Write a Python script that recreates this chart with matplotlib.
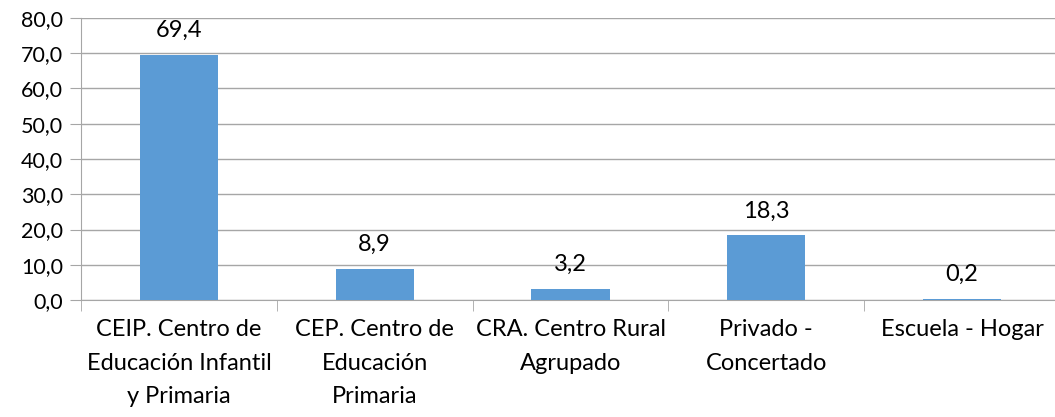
import matplotlib
matplotlib.use('Agg')
import matplotlib.pyplot as plt
import numpy as np

categories = ['CEIP. Centro de\nEducación Infantil\ny Primaria',
              'CEP. Centro de\nEducación\nPrimaria',
              'CRA. Centro Rural\nAgrupado',
              'Privado -\nConcertado',
              'Escuela - Hogar']
values = [69.4, 8.9, 3.2, 18.3, 0.2]
yticks = [0, 10, 20, 30, 40, 50, 60, 70, 80]

plt.rcParams['font.family'] = ['Lato', 'DejaVu Sans']

fig = plt.figure(figsize=(10.55, 4.17), dpi=100)
ax = fig.add_axes([81/1055, 1-300/417, (1060-81)/1055, (300-18)/417])

x = np.arange(len(values))
ax.bar(x, values, width=0.4, color='#5B9BD5', zorder=3)
for xi, v in zip(x, values):
    ax.text(xi, v + 4.0, f'{v:.1f}'.replace('.', ','), ha='center', va='bottom', fontsize=17, color='#000000')

ax.set_xlim(-0.5, len(values) - 0.5)
ax.set_ylim(0, 80)
ax.set_yticks(yticks)
ax.set_yticklabels([f'{t:.1f}'.replace('.', ',') for t in yticks], fontsize=15.5)
ax.yaxis.grid(True, color='#A6A6A6', lw=1, zorder=0)

ax.set_xticks(x)
ax.set_xticklabels(categories, fontsize=17, linespacing=1.72)
ax.set_xticks(np.arange(len(values) + 1) - 0.5, minor=True)
ax.tick_params(axis='x', which='major', length=0, pad=14)
ax.tick_params(axis='x', which='minor', length=8, color='#A6A6A6')
ax.tick_params(axis='y', length=8, color='#A6A6A6', pad=5)

for s in ['top', 'right']:
    ax.spines[s].set_visible(False)
ax.spines['left'].set_color('#A6A6A6')
ax.spines['bottom'].set_color('#A6A6A6')

fig.savefig('out.png', dpi=100)
